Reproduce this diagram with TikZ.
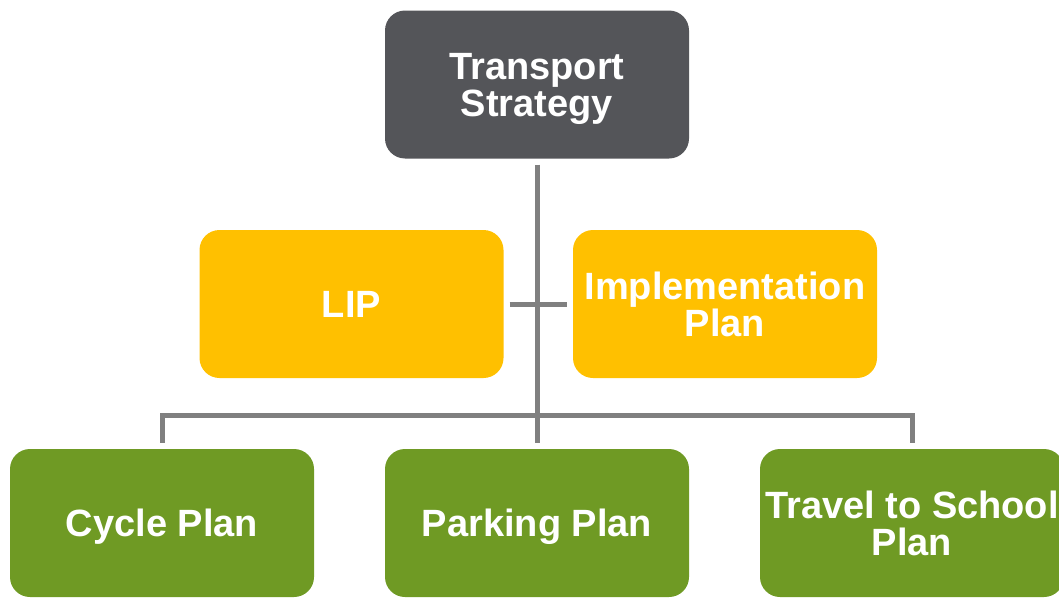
\documentclass[tikz,border=0pt]{standalone}
\usepackage{fontspec}
\setmainfont{Liberation Sans}
\usetikzlibrary{positioning}
\definecolor{stratgray}{HTML}{545559}
\definecolor{planyellow}{HTML}{FFC000}
\definecolor{plangreen}{HTML}{6F9A24}
\definecolor{linkgray}{HTML}{808080}
\begin{document}
\begin{tikzpicture}[x=1pt, y=-1pt,
        box/.style={rounded corners=20pt, minimum width=304pt, minimum height=148pt,
                    inner sep=0pt, text depth=0pt, align=center, text=white,
                    font=\bfseries\fontsize{38}{37}\selectfont},
        link/.style={draw=linkgray, line width=5pt}]
                \useasboundingbox (0,0) rectangle (1059,597);
                \node[box, fill=stratgray]  (strat)  at (537,84.5) {Transport\\Strategy};
                \node[box, fill=planyellow] (lip)    at (351.5,304) {LIP};
                \node[box, fill=planyellow] (impl)   at (725,304)  {Implementation\\Plan};
                \node[box, fill=plangreen]  (cycle)  at (162,523)  {Cycle Plan};
                \node[box, fill=plangreen]  (park)   at (537,523)  {Parking Plan};
                \node[box, fill=plangreen]  (travel) at (912,523)  {Travel to School\\Plan};
                \coordinate (bar) at (537,415);

                \draw[link] ([yshift=-6pt]strat.south) -- ([yshift=6pt]park.north);
                \draw[link] ([xshift=6pt]lip.east) -- ([xshift=-6pt]impl.west);
                \draw[link] ([yshift=6pt]cycle.north) |- (bar) -| ([yshift=6pt]travel.north);
            \end{tikzpicture}
\end{document}
